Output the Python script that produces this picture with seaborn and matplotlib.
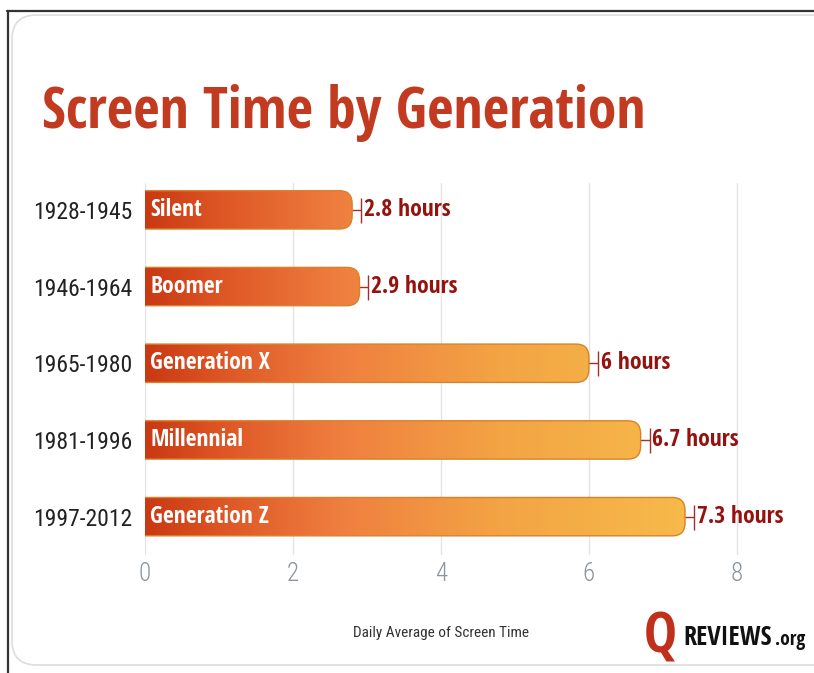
import numpy as np
import pandas as pd
import matplotlib
matplotlib.use("Agg")
import matplotlib.pyplot as plt
import seaborn as sns
from matplotlib.patches import FancyBboxPatch
from matplotlib.colors import LinearSegmentedColormap
from matplotlib.lines import Line2D

# ---- data ----
years = ["1928-1945", "1946-1964", "1965-1980", "1981-1996", "1997-2012"]
generations = ["Silent", "Boomer", "Generation X", "Millennial", "Generation Z"]
hours = [2.8, 2.9, 6.0, 6.7, 7.3]
value_labels = ["2.8 hours", "2.9 hours", "6 hours", "6.7 hours", "7.3 hours"]
x_ticks = [0, 2, 4, 6, 8]
title = "Screen Time by Generation"
x_label = "Daily Average of Screen Time"

df = pd.DataFrame({"years": years, "generation": generations, "hours": hours})

sns.set_theme(style="white")
FAM = ["Open Sans Condensed", "Roboto Condensed", "DejaVu Sans"]
LIGHT = ["Roboto Condensed", "DejaVu Sans"]
plt.rcParams["font.family"] = FAM

W, H = 814, 673
fig = plt.figure(figsize=(W / 100, H / 100), dpi=100)
ax = fig.add_axes([145 / W, 1 - 555 / H, 651 / W, (555 - 183) / H])

sns.barplot(data=df, x="hours", y="years", orient="h", width=0.5,
            color="#e8702f", ax=ax, zorder=3)

ax.set_xlim(0, 8.8)
ax.set_ylim(4.5, -0.35)

cmap = LinearSegmentedColormap.from_list(
    "bar", [(0.0, "#c93913"), (0.12, "#dd5424"), (0.33, "#ef7f3f"),
            (0.6, "#f3a444"), (0.9, "#f7b94a"), (1.0, "#f8bd4b")])
grad = np.linspace(0, 1, 512).reshape(1, -1)

for i, p in enumerate(list(ax.patches)):
    x0, y0, w, h = p.get_x(), p.get_y(), p.get_width(), p.get_height()
    ylo = min(y0, y0 + h)
    hh = abs(h)
    p.set_visible(False)
    fb = FancyBboxPatch((x0 - 0.4, ylo), w + 0.4, hh,
                        boxstyle="round,pad=0,rounding_size=0.17",
                        facecolor="none", edgecolor="#d9822c", lw=1.0,
                        zorder=4, transform=ax.transData)
    ax.add_patch(fb)
    im = ax.imshow(grad, cmap=cmap, aspect="auto", extent=(0, 8, ylo + hh, ylo),
                   zorder=3, interpolation="bilinear")
    im.set_clip_path(fb)
    ax.errorbar(hours[i], i, xerr=[[0.3], [0.12]], fmt="none", ecolor="#a0302a",
                elinewidth=1.0, capsize=9, capthick=1.0, zorder=2)
    ax.text(x0 + 0.07, i, generations[i], color="white", fontweight="bold",
            fontsize=17, va="center", ha="left", zorder=6)
    ax.text(hours[i] + 0.16, i, value_labels[i], color="#95130f", fontweight="bold",
            fontsize=17, va="center", ha="left", zorder=6)

ax.set_xticks(x_ticks)
ax.set_xticklabels([str(t) for t in x_ticks], fontweight="light", fontsize=18,
                   color="#8a939b", family=LIGHT)
ax.set_yticks(range(len(years)))
ax.set_yticklabels(years, fontweight="normal", fontsize=17, color="#222222",
                   family=LIGHT)
ax.grid(axis="x", color="#e4e4e4", lw=1, zorder=0)
ax.grid(axis="y", visible=False)
for s in ax.spines.values():
    s.set_visible(False)
ax.tick_params(axis="x", pad=5, length=0)
ax.tick_params(axis="y", pad=9, length=0)
ax.set_ylabel("")
ax.set_xlabel(x_label, fontsize=11, color="#333333", family=LIGHT,
              fontweight="normal")
ax.xaxis.set_label_coords(4 / 8.8, -0.19)

fig.text(42 / W, 1 - 128 / H, title, fontsize=41.5, fontweight="bold",
         color="#c23a1f", ha="left", va="baseline")

fig.text(644 / W, 1 - 652 / H, "Q", fontsize=40, fontweight="bold",
         color="#c0301a", ha="left", va="baseline")
fig.text(683 / W, 1 - 645 / H, "REVIEWS", fontsize=19, fontweight="bold",
         color="#111111", ha="left", va="baseline")
fig.text(775 / W, 1 - 645 / H, ".org", fontsize=14, fontweight="bold",
         color="#111111", ha="left", va="baseline")

fig.add_artist(Line2D([7 / W, 1], [1 - 11 / H, 1 - 11 / H], color="#333333",
                      lw=1.6, transform=fig.transFigure))
fig.add_artist(Line2D([8 / W, 8 / W], [0, 1 - 11 / H], color="#333333",
                      lw=1.6, transform=fig.transFigure))
fig.add_artist(FancyBboxPatch((12 / W, 1 - 665 / H), 900 / W, (665 - 15) / H,
                              boxstyle="round,pad=0,rounding_size=0.03",
                              facecolor="none", edgecolor="#dddddd", lw=1.2,
                              transform=fig.transFigure, mutation_aspect=W / H))

fig.savefig("out.png", dpi=100)
